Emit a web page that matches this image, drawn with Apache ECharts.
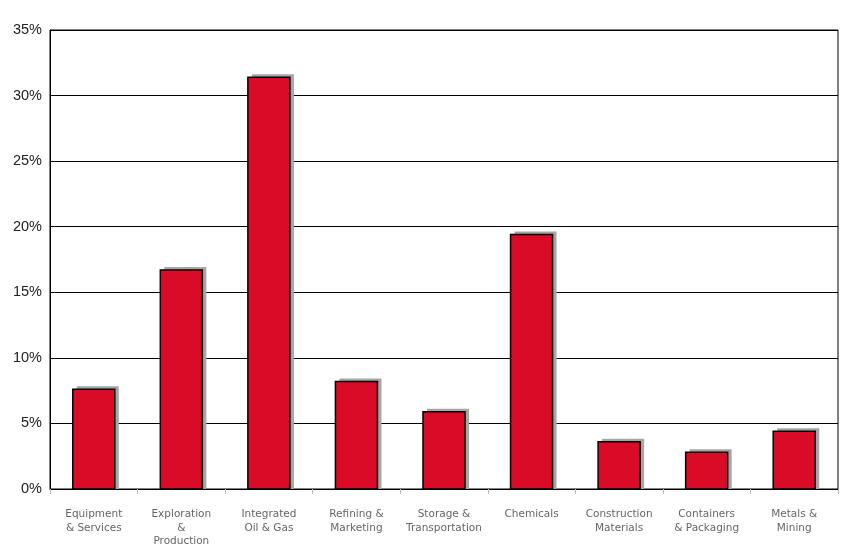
<!DOCTYPE html>
<html><head><meta charset="utf-8">
<script src="https://cdn.jsdelivr.net/npm/echarts@6/dist/echarts.min.js"></script>
<style>html,body{margin:0;padding:0;background:#fff}#c{width:858px;height:550px}</style>
</head><body><div id="c"></div>
<script>
const categories = ["Equipment\n& Services","Exploration\n&\nProduction","Integrated\nOil & Gas","Refining &\nMarketing","Storage &\nTransportation","Chemicals","Construction\nMaterials","Containers\n& Packaging","Metals &\nMining"];
const values = [7.6, 16.7, 31.4, 8.2, 5.9, 19.4, 3.6, 2.8, 4.4];
const yTicks = {min: 0, max: 35, interval: 5};

const chart = echarts.init(document.getElementById('c'), null, {renderer: 'canvas'});
chart.setOption({
  animation: false,
  grid: {left: 50, right: 20, top: 30, bottom: 61, show: true, borderColor: '#000', borderWidth: 1, backgroundColor: 'transparent'},
  xAxis: {
    type: 'category', data: categories,
    axisLine: {lineStyle: {color: '#000', width: 1}},
    axisTick: {show: true, length: 5, lineStyle: {color: '#bbb'}},
    axisLabel: {color: '#666', fontFamily: 'DejaVu Sans', fontSize: 10.5, lineHeight: 13.5, margin: 19, interval: 0}
  },
  yAxis: {
    type: 'value', min: yTicks.min, max: yTicks.max, interval: yTicks.interval,
    axisLine: {show: true, lineStyle: {color: '#000'}},
    axisTick: {show: false},
    splitLine: {lineStyle: {color: '#000', width: 1}},
    axisLabel: {formatter: '{value}%', color: '#222', fontFamily: 'Liberation Sans', fontSize: 14.5, margin: 8}
  },
  series: [{
    type: 'custom',
    data: values.map((v, i) => [i, v]),
    encode: {x: 0, y: 1},
    z: 3,
    renderItem: function (params, api) {
      const top = api.coord([api.value(0), api.value(1)]);
      const base = api.coord([api.value(0), 0]);
      const w = api.size([1, 0])[0] * 0.48;
      const x0 = top[0] - w / 2;
      const h = base[1] - top[1];
      return {
        type: 'group',
        children: [
          {type: 'rect', shape: {x: x0 + 4, y: top[1] - 3, width: w, height: h + 3},
           style: {fill: '#A6A6A6'}},
          {type: 'rect', shape: {x: x0, y: top[1], width: w, height: h},
           style: {fill: '#D90B27', stroke: '#000', lineWidth: 1.5}}
        ]
      };
    }
  }]
});
</script></body></html>
